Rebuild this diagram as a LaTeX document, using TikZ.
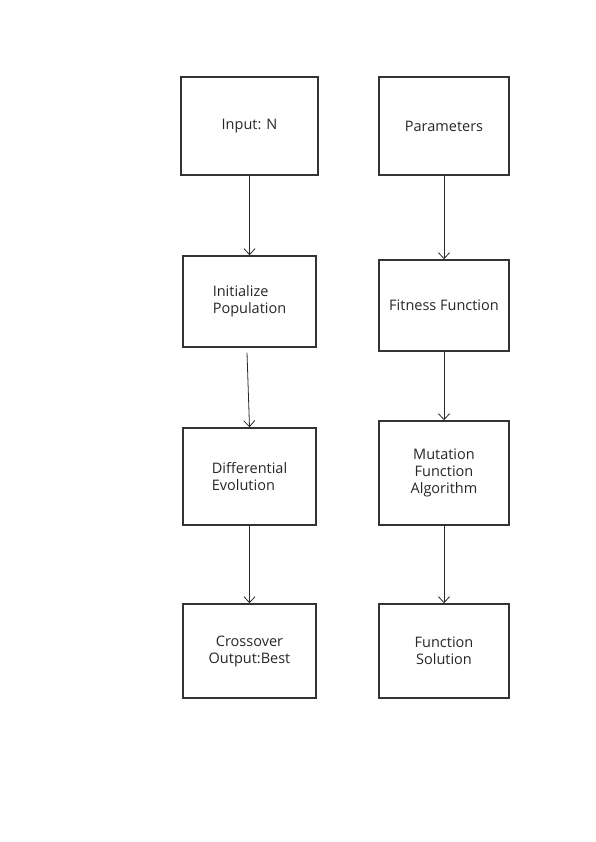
\documentclass[tikz,border=0pt]{standalone}
\usepackage{fontspec}
\setmainfont{Open Sans}
\usetikzlibrary{arrows.meta}

\tikzset{
    stepbox/.style={draw=black!80, line width=1.5pt, inner sep=0pt, align=center, text=black!85, font=\fontsize{14.5}{17}\selectfont},
    flow/.style={black!85, line width=0.8pt, -{Straight Barb[length=6pt, width=11pt, line width=0.8pt]}}
}

\begin{document}
\begin{tikzpicture}[x=1pt, y=-1pt]
        \useasboundingbox (0,0) rectangle (596,842);
        % left column
            \node[stepbox, minimum width=137, minimum height=98] (input) at (249.5,126) {Input: N};
            \node[stepbox, minimum width=133, minimum height=91, align=left] (init) at (249.5,301.5) {Initialize\\ Population};
            \node[stepbox, minimum width=133, minimum height=97, align=left] (diff) at (249.5,476.5) {Differential\\Evolution};
            \node[stepbox, minimum width=133, minimum height=94] (cross) at (249.5,651) {Crossover\\Output:Best};
        % right column
            \node[stepbox, minimum width=130, minimum height=98] (param) at (444,126) {Parameters};
            \node[stepbox, minimum width=130, minimum height=91] (fit) at (444,305.5) {Fitness Function};
            \node[stepbox, minimum width=130, minimum height=104] (mut) at (444,473) {Mutation\\Function\\Algorithm};
            \node[stepbox, minimum width=130, minimum height=94] (sol) at (444,651) {Function\\ Solution};
        % arrows
            \draw [flow] (input.south) -- (init.north);
            \draw [flow] ([xshift=-2.5pt, yshift=-5pt]init.south) -- (diff.north);
            \draw [flow] (diff.south) -- (cross.north);
            \draw [flow] (param.south) -- (fit.north);
            \draw [flow] (fit.south) -- (mut.north);
            \draw [flow] (mut.south) -- (sol.north);
    \end{tikzpicture}
\end{document}
